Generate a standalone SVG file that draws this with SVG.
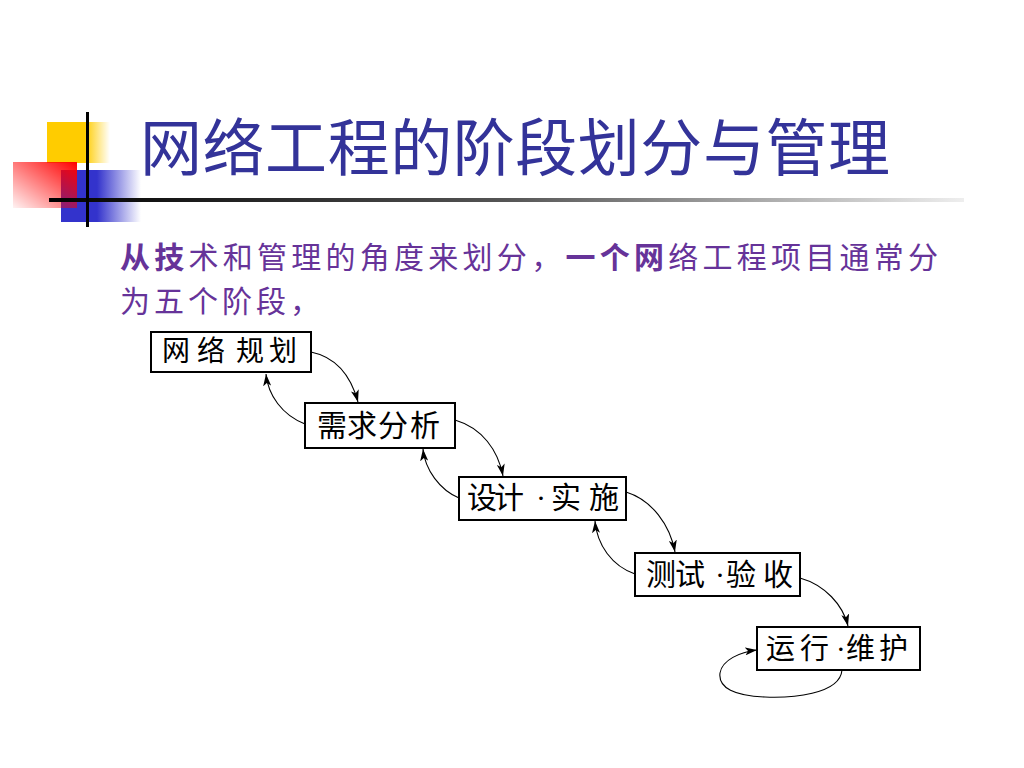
<svg xmlns="http://www.w3.org/2000/svg" width="1024" height="768" viewBox="0 0 1024 768">
<style>
.box{fill:#fff;stroke:#000;stroke-width:2}
.lbl{font-family:"Noto Sans CJK SC","Liberation Serif",serif;fill:#000}
.dot{font-family:"Liberation Serif",serif}
.con{fill:none;stroke:#000;stroke-width:1.1}
.title{font-family:"Noto Sans CJK SC","Liberation Sans",sans-serif;font-size:62px;fill:#333399}
.sub{font-family:"Noto Sans CJK SC","Liberation Sans",sans-serif;font-size:30px;fill:#663399}
</style>
<defs>
<marker id="ah" markerWidth="12" markerHeight="8" refX="12" refY="4" orient="auto" markerUnits="userSpaceOnUse">
<path d="M0,0 L12,4 L0,8 L3,4 z" fill="#000"/>
</marker>
<linearGradient id="gy" x1="0" y1="0" x2="1" y2="0">
<stop offset="0" stop-color="#FFCC00"/><stop offset="0.6" stop-color="#FFCC00"/><stop offset="1" stop-color="#FFCC00" stop-opacity="0"/>
</linearGradient>
<linearGradient id="gb" x1="0" y1="0" x2="1" y2="0">
<stop offset="0" stop-color="#3333CC"/><stop offset="0.45" stop-color="#3333CC"/><stop offset="1" stop-color="#3333CC" stop-opacity="0"/>
</linearGradient>
<linearGradient id="gr" x1="1" y1="0" x2="0" y2="1">
<stop offset="0" stop-color="#FF0000"/><stop offset="1" stop-color="#FF0000" stop-opacity="0.05"/>
</linearGradient>
<linearGradient id="gl" x1="0" y1="0" x2="1" y2="0">
<stop offset="0" stop-color="#000"/><stop offset="0.5" stop-color="#555"/><stop offset="1" stop-color="#eee"/>
</linearGradient>
</defs>
<rect width="1024" height="768" fill="#fff"/>
<g id="decoration">
<rect x="47" y="122" width="63" height="41" fill="url(#gy)"/>
<rect x="61" y="170" width="80" height="52" fill="url(#gb)"/>
<rect x="13" y="162" width="64" height="46" fill="url(#gr)"/>
<rect x="49" y="198" width="915" height="4" fill="url(#gl)"/>
<rect x="86" y="112" width="3" height="115" fill="#000"/>
</g>
<text class="title" x="140" y="171" textLength="750" lengthAdjust="spacing">网络工程的阶段划分与管理</text>
<text class="sub" x="120" y="268" textLength="818" lengthAdjust="spacing"><tspan font-weight="bold">从技</tspan>术和管理的角度来划分，<tspan font-weight="bold">一个网</tspan>络工程项目通常分</text>
<text class="sub" x="120" y="312" textLength="200" lengthAdjust="spacing">为五个阶段，</text>
<g id="connectors">
<path class="con" marker-end="url(#ah)" d="M311,352 C340,358 352,380 358,402"/>
<path class="con" marker-end="url(#ah)" d="M305,424 C282,415 268,395 266,374"/>
<path class="con" marker-end="url(#ah)" d="M455,420 C482,428 498,450 503,476"/>
<path class="con" marker-end="url(#ah)" d="M459,498 C440,490 425,470 423,449"/>
<path class="con" marker-end="url(#ah)" d="M626,492 C652,500 670,525 675,552"/>
<path class="con" marker-end="url(#ah)" d="M635,574 C612,566 597,545 595,521"/>
<path class="con" marker-end="url(#ah)" d="M800,578 C825,585 843,605 848,626"/>
<path class="con" marker-end="url(#ah)" d="M842,670 C840,695 790,698 765,697 C735,696 718,688 720,673 C722,660 740,652 757,650"/>
</g>
<g id="n1"><rect class="box" x="151" y="332" width="160" height="40"/><text class="lbl" y="361" font-size="28" x="162 197 236 269">网络规划</text></g>
<g id="n2"><rect class="box" x="305" y="403" width="150" height="45"/><text class="lbl" y="436" font-size="30" x="317 347 378 410">需求分析</text></g>
<g id="n3"><rect class="box" x="459" y="477" width="167" height="43"/><text class="lbl" y="508" font-size="30"><tspan x="467 494">设计</tspan><tspan class="dot" x="536">·</tspan><tspan x="551 589">实施</tspan></text></g>
<g id="n4"><rect class="box" x="635" y="553" width="165" height="43"/><text class="lbl" y="585" font-size="30"><tspan x="646 675">测试</tspan><tspan class="dot" x="715">·</tspan><tspan x="726 763">验收</tspan></text></g>
<g id="n5"><rect class="box" x="757" y="627" width="163" height="43"/><text class="lbl" y="659" font-size="29"><tspan x="766 800">运行</tspan><tspan class="dot" x="836">·</tspan><tspan x="846 879">维护</tspan></text></g>
</svg>
